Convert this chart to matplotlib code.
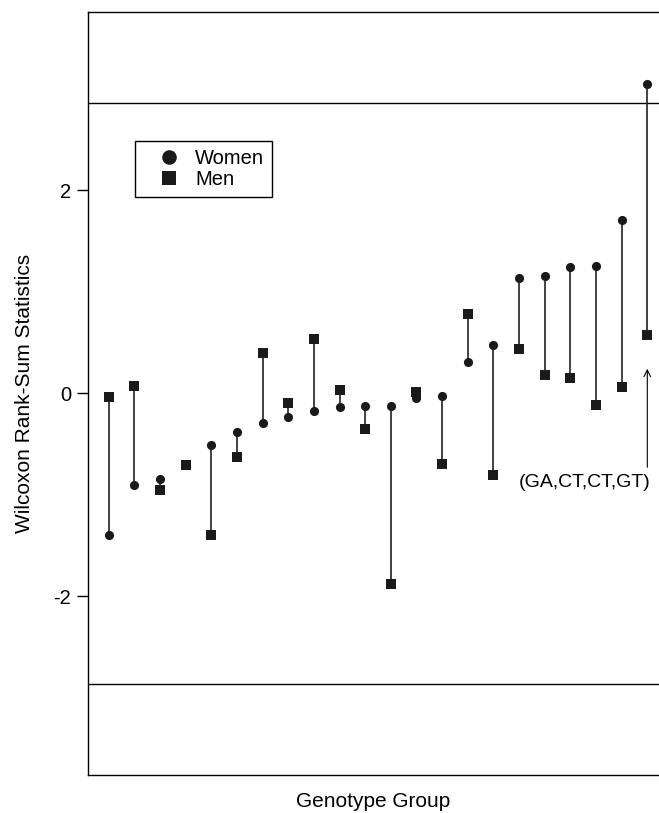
"""Wilcoxon rank-sum statistics per genotype group, women vs men."""
import matplotlib
matplotlib.use("Agg")
import matplotlib.pyplot as plt
from matplotlib.lines import Line2D

plt.rcParams["font.family"] = ["Liberation Sans", "DejaVu Sans"]

# === Datos ===
grupos = list(range(1, 23))
mujeres = [-1.40, -0.90, -0.85, -0.71, -0.51, -0.38, -0.29, -0.23, -0.18, -0.14, -0.13,
           -0.13, -0.045, -0.03, 0.31, 0.47, 1.13, 1.15, 1.24, 1.25, 1.70, 3.04]
hombres = [-0.04, 0.07, -0.95, -0.71, -1.40, -0.63, 0.40, -0.10, 0.53, 0.03, -0.35,
           -1.88, 0.015, -0.70, 0.78, -0.81, 0.43, 0.18, 0.15, -0.12, 0.06, 0.57]
umbral = 2.86
yticks = [-2, 0, 2]
etiqueta = "(GA,CT,CT,GT)"

fig = plt.figure(figsize=(6.59, 8.13), dpi=100)
ax = fig.add_axes([88 / 659, 38 / 813, 1 - 88 / 659, (775 - 12.3) / 813])

# lineas de corte
ax.axhline(umbral, color="black", lw=1.0)
ax.axhline(-umbral, color="black", lw=1.0)

# tallos entre mujeres y hombres
ax.vlines(grupos, mujeres, hombres, color="#222222", lw=1.2)
ax.plot(grupos, mujeres, "o", color="#1a1a1a", ms=6.6, mew=0)
ax.plot(grupos, hombres, "s", color="#1a1a1a", ms=7.0, mew=0)

# flecha y etiqueta del grupo destacado
ax.annotate("", xy=(grupos[-1], 0.24), xytext=(grupos[-1], -0.73),
            arrowprops=dict(arrowstyle="->", color="black", lw=0.8,
                            shrinkA=0, shrinkB=0, mutation_scale=12))
ax.text(19.57, -0.88, etiqueta, ha="center", va="center", fontsize=14)

ax.set_xlim(0.193, 22.456)
ax.set_ylim(-3.76, 3.75)
ax.set_xticks([])
ax.set_yticks(yticks)
ax.set_yticklabels([str(t) for t in yticks])
ax.tick_params(axis="y", direction="out", length=8, width=1, labelsize=14.5, pad=4)
ax.spines["right"].set_visible(False)
for s in ["left", "top", "bottom"]:
    ax.spines[s].set_linewidth(1.0)

ax.set_ylabel("Wilcoxon Rank-Sum Statistics", fontsize=15, labelpad=14)
ax.set_xlabel("Genotype Group", fontsize=15, labelpad=12)

handles = [Line2D([], [], ls="", marker="o", color="#1a1a1a", ms=10.5, mew=0),
           Line2D([], [], ls="", marker="s", color="#1a1a1a", ms=9.5, mew=0)]
leg = ax.legend(handles, ["Women", "Men"], loc="upper left",
                bbox_to_anchor=(0.082, 0.831), borderaxespad=0, fontsize=14.5,
                fancybox=False, edgecolor="black", framealpha=1,
                borderpad=0.4, handlelength=2.6, handletextpad=0.0,
                labelspacing=0.1)
leg.get_frame().set_linewidth(1.0)

plt.savefig("out.png", dpi=100)
plt.close()
